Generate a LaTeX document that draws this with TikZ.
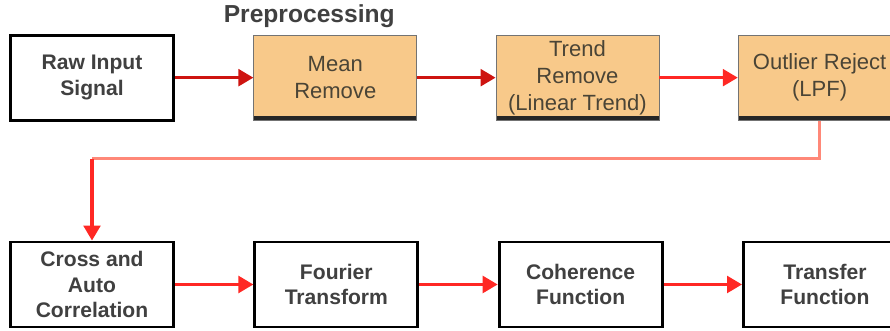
\documentclass[tikz,border=0pt]{standalone}
\usepackage{fontspec}
\setsansfont{Liberation Sans}
\usetikzlibrary{arrows.meta, positioning}
\definecolor{boxorange}{RGB}{248,201,138}
\definecolor{textolive}{RGB}{74,68,54}
\definecolor{darkflow}{RGB}{206,20,16}
\definecolor{flowred}{RGB}{255,40,36}
\definecolor{backflow}{RGB}{255,136,120}

\begin{document}
\begin{tikzpicture}[
    >={Triangle[length=0.45cm, width=0.5cm]},
    stage/.style={draw=black!55, line width=0.6pt, fill=boxorange,
                  minimum width=4.89cm, minimum height=2.55cm,
                  align=center, inner sep=1pt, text=textolive,
                  font=\fontsize{18.8}{23}\selectfont\sffamily,
                  path picture={\fill[black!85]
                    (path picture bounding box.south west) rectangle
                    ([yshift=0.12cm]path picture bounding box.south east);}},
    block/.style={draw=black, line width=2.4pt, fill=white,
                  minimum width=4.89cm, minimum height=2.55cm,
                  align=center, inner sep=1pt, text=black!75,
                  font=\fontsize{18}{22}\selectfont\sffamily\bfseries},
    flow/.style={->, line width=0.1cm, draw=flowred, fill=flowred},
    node distance=2.355cm
  ]
  \useasboundingbox (0,0) rectangle (26.7,-9.93);

  % top row
  \node[block] (raw) at (2.76,-2.33) {Raw Input\\Signal};
  \node[stage, right=of raw] (mean) {Mean\\Remove};
  \node[stage, right=of mean] (trend) {Trend\\Remove\\(Linear Trend)};
  \node[stage, right=of trend] (outlier) {Outlier Reject\\(LPF)};
  \node[above=0.2cm of mean, xshift=-0.78cm, inner sep=0pt, text=black!75,
        font=\fontsize{21}{24}\selectfont\sffamily\bfseries] (prep) {Preprocessing};

  % bottom row
  \node[block, below=3.57cm of raw] (cross) {Cross and\\Auto\\Correlation};
  \node[block, right=of cross] (fourier) {Fourier\\Transform};
  \node[block, right=of fourier] (coher) {Coherence\\Function};
  \node[block, right=of coher] (transfer) {Transfer\\Function};

  \draw[flow, draw=darkflow] (raw) -- (mean);
  \draw[flow, draw=darkflow] (mean) -- (trend);
  \draw[flow] (trend) -- (outlier);

  % return path
  \coordinate[below=1.14cm of outlier] (bend);
  \coordinate (turn) at (cross |- bend);
  \draw[line width=0.1cm, draw=backflow] (outlier) -- (bend) -- (turn);
  \draw[flow] (turn) -- (cross);

  \draw[flow] (cross) -- (fourier);
  \draw[flow] (fourier) -- (coher);
  \draw[flow] (coher) -- (transfer);
\end{tikzpicture}
\end{document}
